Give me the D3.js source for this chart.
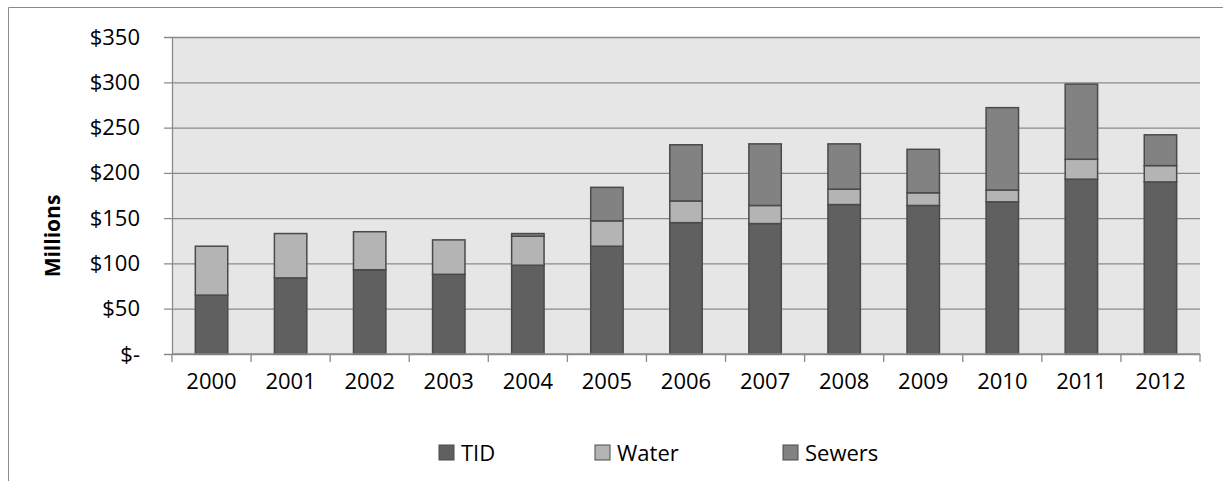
<!DOCTYPE html>
<html><head><meta charset="utf-8">
<script src="https://cdn.jsdelivr.net/npm/d3@7"></script>
<style>body{margin:0;background:#fff}svg{display:block}</style>
</head><body><svg id="c" width="1223" height="481"></svg>
<script>
const years = ["2000","2001","2002","2003","2004","2005","2006","2007","2008","2009","2010","2011","2012"];
const tid    = [65, 84, 93, 88, 98, 119, 145, 144, 165, 164, 168, 193, 190];
const water  = [54, 49, 42, 38, 32, 28, 24, 20, 17, 14, 13, 22, 18];
const sewers = [0, 0, 0, 0, 3, 37, 62, 68, 50, 48, 91, 83, 34];
const seriesNames = ["TID","Water","Sewers"];
const seriesColors = ["#606060","#b4b4b4","#828282"];
const yTicks = [0,50,100,150,200,250,300,350];
const yTickLabels = ["$-","$50","$100","$150","$200","$250","$300","$350"];

const font = "'Open Sans', sans-serif";
const svg = d3.select("#c");
const L = 172, R = 1200, T = 37, B = 354;

// outer frame (clipped at right/bottom)
svg.append("path").attr("d","M8.5,481 V7.5 H1223").attr("fill","none").attr("stroke","#8a8a8a").attr("stroke-width",1);

const x = d3.scaleBand().domain(years).range([L,R]).paddingInner(0.59).paddingOuter(0.295);
const y = d3.scaleLinear().domain([0,350]).range([B,T]);

svg.append("rect").attr("x",L).attr("y",T).attr("width",R-L).attr("height",B-T).attr("fill","#e6e6e6");

// gridlines + left ticks
const yAxis = d3.axisLeft(y).tickValues(yTicks).tickSize(-(R-L)).tickSizeOuter(0).tickFormat((d,i)=>yTickLabels[i]).tickPadding(32);
const gy = svg.append("g").attr("transform",`translate(${L},0)`).call(yAxis);
gy.select(".domain").attr("stroke","#8a8a8a").attr("stroke-width",1.3);
gy.selectAll(".tick line").attr("stroke","#8a8a8a").attr("stroke-width",1.3).attr("x1",-8);
gy.selectAll(".tick text").attr("font-family",font).attr("font-size",22).attr("fill","#000");

// stacked bars
const rows = years.map((yr,i)=>({year:yr,TID:tid[i],Water:water[i],Sewers:sewers[i]}));
const stack = d3.stack().keys(seriesNames)(rows);
stack.forEach((s,k)=>{
  svg.append("g").selectAll("rect").data(s).join("rect")
    .attr("x",d=>x(d.data.year))
    .attr("y",d=>y(d[1]))
    .attr("width",x.bandwidth())
    .attr("height",d=>Math.max(0,y(d[0])-y(d[1])))
    .attr("fill",seriesColors[k])
    .attr("stroke",d=>d[1]-d[0]>0?"#4a4a4a":"none")
    .attr("stroke-width",1.5);
});

// x axis
const xTickScale = d3.scaleLinear().domain([0,years.length]).range([L,R]);
const gx = svg.append("g");
gx.append("line").attr("x1",L).attr("x2",R).attr("y1",B).attr("y2",B).attr("stroke","#8a8a8a").attr("stroke-width",1.3);
gx.selectAll("line.t").data(d3.range(years.length+1)).join("line").attr("class","t")
  .attr("x1",d=>xTickScale(d)).attr("x2",d=>xTickScale(d)).attr("y1",B).attr("y2",B+8)
  .attr("stroke","#8a8a8a").attr("stroke-width",1.3);
gx.selectAll("text").data(years).join("text")
  .attr("x",d=>x(d)+x.bandwidth()/2).attr("y",389)
  .attr("text-anchor","middle").attr("font-family",font).attr("font-size",22).attr("fill","#000")
  .text(d=>d);

// y title
svg.append("text").attr("transform","translate(60,236) rotate(-90)")
  .attr("text-anchor","middle").attr("font-family",font).attr("font-weight","bold")
  .attr("font-size",21).attr("fill","#000").text("Millions");

// legend
const legendX = [439, 595, 783];
const lg = svg.append("g");
seriesNames.forEach((n,k)=>{
  lg.append("rect").attr("x",legendX[k]).attr("y",445).attr("width",15).attr("height",15)
    .attr("fill",seriesColors[k]).attr("stroke","#4a4a4a").attr("stroke-width",1);
  lg.append("text").attr("x",legendX[k]+22).attr("y",461).attr("font-family",font).attr("font-size",22)
    .attr("fill","#000").text(n);
});
</script></body></html>
